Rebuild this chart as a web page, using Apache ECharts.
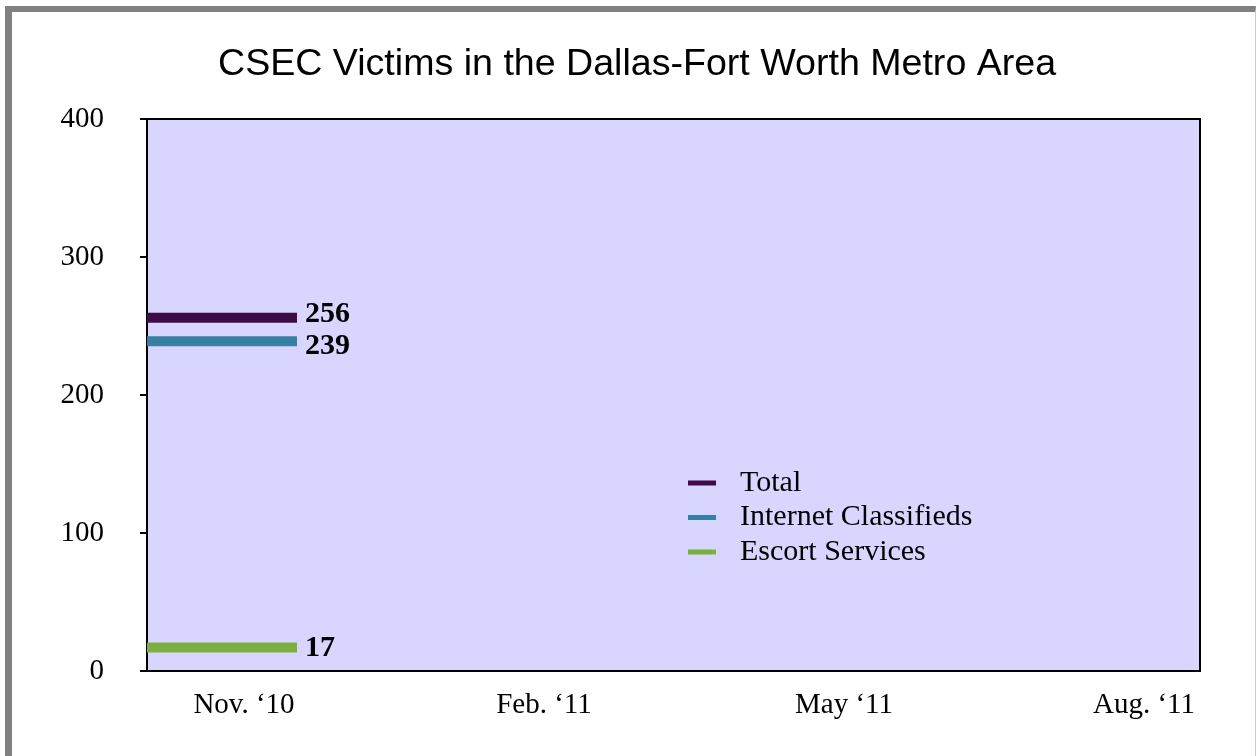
<!DOCTYPE html>
<html>
<head>
<meta charset="utf-8">
<script src="https://cdn.jsdelivr.net/npm/echarts@6/dist/echarts.min.js"></script>
<style>
  html, body { margin:0; padding:0; background:#fff; }
  #frame { position:absolute; left:5px; top:6px; width:1251px; height:750px;
           border-left:7px solid #808080; border-top:6px solid #808080; border-right:1px solid #c8c8c8; box-sizing:border-box; }
  #chart { position:absolute; left:0; top:0; width:1258px; height:756px; }
</style>
</head>
<body>
<div id="frame"></div>
<div id="chart"></div>
<script>
// Month index: Nov '10 = 0
const tickMonths = [0, 3, 6, 9];
const tickLabels = ['Nov. \u201810', 'Feb. \u201811', 'May \u201811', 'Aug. \u201811'];
const seriesNames = ['Total', 'Internet Classifieds', 'Escort Services'];
const seriesValues = [256, 239, 17];
const segmentStart = -0.97;   // left edge of the plotted period
const segmentEnd = 0.53;      // end of the plotted period
const seriesColors = ['#3D0B47', '#3780A3', '#7BB03E'];
const labelOffsets = [[0, -3], [0, 5], [0, 1]];

const chart = echarts.init(document.getElementById('chart'));
const serif = 'Liberation Serif';
const series = seriesNames.map((name, i) => ({
  name: name,
  type: 'line',
  data: [[segmentStart, seriesValues[i]], [segmentEnd, seriesValues[i]]],
  symbol: 'none',
  lineStyle: { color: seriesColors[i], width: 10, cap: 'butt' },
  itemStyle: { color: seriesColors[i] },
  endLabel: {
    show: true,
    formatter: () => String(seriesValues[i]),
    fontFamily: serif, fontWeight: 'bold', fontSize: 30, color: '#000',
    distance: 8, offset: labelOffsets[i]
  },
  z: 3 - i
}));

chart.setOption({
  animation: false,
  title: {
    text: 'CSEC Victims in the Dallas-Fort Worth Metro Area',
    left: 213, top: 41,
    textStyle: { fontFamily: 'Liberation Sans', fontWeight: 'normal', fontSize: 37.6, color: '#000' }
  },
  grid: {
    left: 147, top: 119, right: 58, bottom: 85,
    show: true, backgroundColor: '#D8D6FE', borderColor: '#000', borderWidth: 2
  },
  legend: {
    orient: 'vertical', left: 688, top: 468, padding: 0,
    icon: 'rect', itemWidth: 28, itemHeight: 5, itemGap: 4.5,
    textStyle: { fontFamily: serif, fontSize: 30, color: '#000', lineHeight: 30, padding: [0, 0, 0, 19] },
    data: seriesNames
  },
  xAxis: {
    type: 'value', min: segmentStart, max: 9.56,
    axisLine: { show: false }, axisTick: { show: false }, splitLine: { show: false },
    axisLabel: {
      customValues: tickMonths,
      formatter: v => tickLabels[tickMonths.indexOf(Math.round(v))] || '',
      fontFamily: serif, fontSize: 29, color: '#000', margin: 20
    }
  },
  yAxis: {
    type: 'value', min: 0, max: 400, interval: 100,
    axisLine: { show: true, onZero: false, lineStyle: { color: '#000', width: 2 } },
    axisTick: { show: true, length: 7, lineStyle: { color: '#000', width: 2 } },
    splitLine: { show: false },
    axisLabel: { fontFamily: serif, fontSize: 29, color: '#000', margin: 43 }
  },
  series: series
});
</script>
</body>
</html>
